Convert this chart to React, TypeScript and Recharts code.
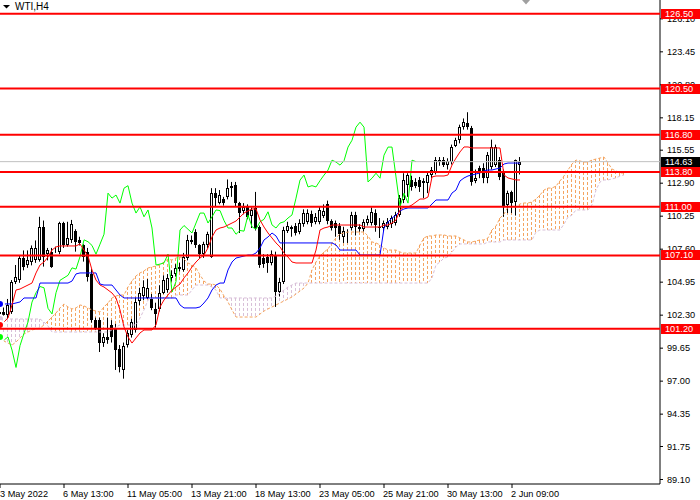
import {
  ComposedChart,
  Bar,
  Line,
  XAxis,
  YAxis,
  ReferenceLine,
} from "recharts";

// WTI H4 candles, 3 May - 2 Jun 2022
const opens = [
  102.15, 102.55, 102.3, 102.56, 104.96, 105.1, 106.9, 106.3, 106.55, 106.7,
  106.7, 109.4, 107.2, 107.4, 107.5, 107.4, 109.7, 107.95, 108.3, 109.05,
  108.3, 107.9, 107.4, 105.6, 101.9, 101.9, 100.06, 100.55, 101.5, 101.3,
  99.6, 97.9, 99.9, 100.7, 101.1, 103.45, 103.8, 103.7, 103.6, 102.8,
  102.8, 104.1, 104.3, 105.3, 105.6, 106.2, 105.9, 106.9, 108.35, 109.0,
  107.9, 107.2, 107.9, 107.0, 112.1, 111.3, 111.6, 111.8, 112.5, 112.75,
  111.3, 110.7, 111.0, 110.3, 110.9, 109.38, 106.9, 107.0, 106.5, 107.1,
  104.2, 105.0, 109.1, 109.4, 109.5, 109.0, 109.6, 109.8, 110.4, 109.8,
  109.8, 110.3, 111.2, 109.9, 109.7, 109.5, 108.6, 109.0, 109.3, 110.35,
  109.4, 109.2, 109.7, 109.7, 110.5, 109.4, 109.3, 109.4, 109.6, 109.7,
  110.35, 111.55, 112.75, 113.15, 113.0, 113.15, 112.9, 112.9, 113.55, 113.8,
  114.75, 114.75, 114.4, 114.6, 115.9, 116.35, 117.4, 117.7, 117.35, 113.1,
  114.1, 114.1, 113.3, 114.2, 114.4, 114.75, 113.8, 111.15, 112.2, 111.4,
  114.4,
];
const highs = [
  102.72, 102.95, 103.6, 105.12, 106.33, 107.13, 107.5, 107.5, 107.9, 108.3,
  110.2, 109.9, 107.7, 107.7, 107.8, 109.8, 109.8, 109.8, 109.95, 109.2,
  108.6, 108.0, 107.7, 106.0, 102.1, 102.1, 100.85, 102.1, 101.9, 101.6,
  99.9, 100.1, 101.1, 102.0, 103.7, 104.5, 105.1, 105.2, 104.0, 103.3,
  104.7, 105.5, 105.6, 105.9, 106.4, 106.5, 107.3, 108.75, 108.7, 109.2,
  108.0, 108.2, 109.0, 112.5, 112.5, 112.35, 111.8, 113.2, 113.0, 113.0,
  111.4, 111.3, 111.2, 110.95, 112.2, 109.5, 107.2, 107.2, 107.5, 107.4,
  105.3, 109.4, 109.8, 109.5, 109.7, 110.0, 110.8, 110.8, 110.7, 110.5,
  111.0, 111.2, 111.5, 110.0, 109.9, 109.7, 109.4, 109.2, 110.6, 110.6,
  109.6, 110.0, 110.3, 110.95, 110.8, 110.1, 109.9, 110.1, 110.3, 110.6,
  111.95, 113.7, 113.7, 113.5, 113.3, 113.4, 113.3, 113.8, 114.2, 115.0,
  115.0, 115.0, 114.9, 116.0, 116.55, 117.6, 118.1, 118.6, 117.5, 114.0,
  114.3, 114.5, 115.4, 116.4, 116.0, 115.0, 114.0, 112.3, 112.3, 114.8,
  115.0,
];
const lows = [
  101.91, 101.95, 102.05, 102.4, 104.8, 104.9, 105.9, 106.1, 106.3, 106.5,
  106.6, 106.2, 106.7, 106.1, 107.3, 107.2, 107.7, 107.8, 108.1, 107.4,
  107.9, 106.6, 105.0, 101.7, 101.1, 99.34, 99.75, 100.0, 100.1, 97.9,
  97.7, 97.2, 99.7, 100.5, 100.9, 103.1, 103.5, 103.6, 102.7, 101.3,
  102.6, 104.0, 104.1, 105.0, 105.4, 105.8, 105.8, 106.7, 108.0, 107.7,
  106.9, 106.9, 107.7, 106.9, 111.0, 111.2, 111.1, 111.6, 111.8, 111.0,
  108.9, 110.4, 110.0, 109.3, 109.1, 106.1, 106.1, 105.7, 106.3, 102.96,
  103.8, 104.8, 108.9, 108.6, 108.7, 108.8, 109.4, 109.6, 109.4, 109.6,
  109.6, 110.1, 109.6, 109.1, 108.6, 108.35, 108.1, 108.1, 109.1, 108.7,
  109.0, 109.0, 109.5, 109.5, 109.0, 108.5, 109.0, 109.2, 109.3, 109.5,
  110.2, 111.3, 111.8, 112.3, 112.5, 112.2, 111.7, 112.1, 113.3, 113.6,
  114.3, 114.2, 114.0, 114.4, 115.8, 116.1, 117.2, 117.2, 112.7, 112.9,
  113.3, 112.9, 112.9, 114.0, 114.2, 113.15, 110.2, 110.5, 110.5, 110.3,
  113.6,
];
const closes = [
  102.56, 102.3, 103.1, 104.96, 105.4, 106.89, 106.2, 106.7, 107.7, 107.7,
  109.38, 106.97, 107.5, 106.2, 107.6, 109.7, 107.9, 108.5, 109.6, 108.2,
  108.1, 106.95, 105.37, 101.9, 101.3, 100.06, 100.55, 100.3, 100.55, 99.5,
  98.1, 99.85, 100.85, 101.75, 103.35, 104.1, 104.6, 104.5, 102.85, 102.4,
  104.1, 105.1, 105.3, 105.5, 106.1, 106.0, 107.0, 108.35, 108.2, 107.9,
  107.2, 108.0, 108.8, 112.1, 111.7, 111.95, 111.3, 112.5, 112.7, 111.3,
  110.5, 111.0, 110.2, 110.75, 109.3, 106.33, 106.4, 106.5, 107.2, 104.16,
  105.0, 109.14, 109.5, 109.2, 108.9, 109.7, 110.5, 110.5, 109.7, 110.2,
  110.75, 110.7, 109.9, 109.3, 109.3, 108.8, 109.1, 109.05, 110.35, 109.4,
  109.2, 109.8, 110.0, 110.6, 109.55, 109.3, 109.7, 109.8, 110.1, 110.35,
  111.7, 113.15, 113.55, 112.6, 112.7, 112.6, 113.1, 113.55, 113.95, 114.75,
  114.6, 114.35, 114.7, 115.8, 116.35, 117.4, 117.8, 117.4, 113.0, 113.3,
  113.7, 113.3, 115.15, 115.8, 115.8, 113.4, 111.0, 112.1, 111.3, 114.75,
  114.63,
];

// Ichimoku lines
const tenkan = [
  101.51, 101.75, 102.07, 103.12, 104.32, 104.4, 104.56, 104.72, 104.88, 105.69,
  106.33, 106.57, 106.97, 107.53, 107.78, 107.86, 107.86, 107.86, 107.86, 107.86,
  108.02, 107.53, 107.05, 105.93, 105.12, 104.72, 104.56, 104.32, 104.08, 103.68,
  102.72, 101.35, 100.55, 100.06, 100.47, 100.87, 101.11, 101.11, 101.11, 101.51,
  102.96, 103.52, 103.92, 104.32, 104.56, 104.8, 105.29, 105.69, 106.17, 106.57,
  106.89, 107.13, 107.7, 108.58, 109.14, 109.3, 109.38, 109.54, 109.7, 109.86,
  110.18, 110.5, 110.67, 110.83, 110.83, 109.94, 109.38, 108.9, 108.5, 108.1,
  107.78, 107.29, 106.97, 106.57, 106.49, 106.49, 106.49, 106.49, 106.49, 107.53,
  109.14, 109.3, 109.38, 109.54, 109.54, 109.54, 109.54, 109.54, 109.54, 109.54,
  109.54, 109.38, 109.38, 109.38, 109.38, 109.38, 109.54, 109.54, 109.7, 109.94,
  110.75, 110.99, 110.99, 111.15, 111.39, 111.63, 111.63, 111.79, 113.4, 113.48,
  113.48, 113.48, 113.56, 114.36, 114.92, 115.41, 115.81, 115.81, 115.73, 115.73,
  115.73, 115.73, 115.73, 115.73, 115.73, 115.73, 113.56, 113.32, 113.24, 113.16,
  113.16,
];
const kijun = [
  103.2, 103.2, 103.2, 103.2, 103.28, 103.36, 103.68, 103.68, 103.68, 103.68,
  104.88, 104.88, 104.88, 104.88, 104.88, 104.88, 104.88, 104.88, 105.04, 105.61,
  105.69, 105.69, 105.69, 105.69, 105.69, 104.8, 104.72, 104.72, 104.72, 104.32,
  103.92, 103.68, 103.68, 103.68, 103.68, 103.68, 103.68, 103.68, 103.68, 103.68,
  103.68, 103.68, 103.68, 103.68, 103.68, 103.12, 102.88, 102.88, 102.88, 102.88,
  102.96, 103.28, 103.68, 104.32, 104.72, 104.88, 104.88, 105.93, 106.57, 106.89,
  106.97, 107.05, 107.13, 107.13, 107.29, 107.7, 108.34, 108.58, 108.9, 108.66,
  108.1, 108.1, 108.1, 108.1, 108.1, 108.1, 108.1, 108.1, 108.1, 108.1,
  108.1, 108.1, 108.1, 108.1, 107.94, 107.53, 107.53, 107.53, 107.53, 107.53,
  107.13, 107.13, 107.13, 107.13, 107.13, 107.13, 109.3, 109.78, 110.1, 110.34,
  110.67, 110.83, 110.91, 110.91, 110.91, 110.91, 110.91, 110.91, 111.23, 111.55,
  111.55, 111.55, 111.55, 112.11, 112.35, 113.08, 113.32, 113.48, 113.56, 113.64,
  113.72, 113.88, 113.96, 113.96, 114.04, 114.12, 114.44, 114.52, 114.52, 114.52,
  114.52,
];
const spanA = [
  100.55, 100.22, 100.06, 99.9, 100.14, 100.47, 100.79, 100.95, 101.11, 101.19,
  101.27, 101.51, 101.83, 102.15, 102.47, 102.88, 103.2, 102.96, 102.8, 102.88,
  103.12, 103.04, 102.88, 102.72, 102.63, 102.55, 102.96, 103.28, 103.68, 103.84,
  103.92, 103.92, 104.56, 105.04, 105.45, 105.69, 105.85, 106.09, 106.17, 106.25,
  106.33, 106.57, 106.81, 106.73, 106.89, 106.97, 106.81, 106.49, 106.33, 106.09,
  105.53, 105.04, 104.8, 104.8, 104.72, 104.4, 103.84, 103.36, 102.72, 102.15,
  102.15, 102.15, 102.15, 102.15, 102.15, 102.39, 102.63, 102.8, 102.96, 103.12,
  103.28, 103.44, 103.6, 103.76, 104.0, 104.24, 104.48, 104.88, 105.93, 106.57,
  107.05, 107.37, 107.61, 108.1, 108.5, 108.82, 108.9, 108.98, 108.98, 108.98,
  108.98, 108.98, 108.66, 108.18, 108.1, 107.94, 107.7, 107.53, 107.53, 107.53,
  107.37, 107.29, 107.29, 107.29, 107.29, 107.94, 108.5, 108.66, 108.66, 108.74,
  108.74, 108.74, 108.66, 108.66, 108.66, 108.5, 108.34, 108.18, 108.18, 108.26,
  108.34, 108.34, 108.5, 109.14, 109.46, 110.1, 110.42, 110.99, 110.99, 110.99,
  111.23, 111.31, 111.31, 111.39, 111.63, 111.95, 112.35, 112.51, 112.51, 112.67,
  113.08, 113.48, 113.96, 114.44, 114.76, 114.68, 114.6, 114.6, 114.76, 114.84,
  114.92, 115.0, 114.52, 114.04, 113.88, 113.72, 113.72,
];
const spanB = [
  101.99, 101.99, 101.99, 101.99, 101.99, 101.99, 101.99, 101.99, 101.99, 101.99,
  101.99, 101.75, 101.43, 100.95, 100.95, 100.95, 100.95, 100.95, 100.95, 100.95,
  100.95, 100.95, 100.95, 100.95, 100.95, 100.95, 100.95, 100.95, 101.11, 101.35,
  101.51, 101.51, 101.51, 101.51, 101.51, 102.07, 102.72, 103.52, 103.68, 103.68,
  103.68, 103.68, 103.68, 103.68, 103.92, 103.92, 103.92, 103.92, 104.32, 104.72,
  104.72, 104.72, 104.72, 104.56, 104.32, 103.68, 103.68, 103.68, 103.68, 103.68,
  103.68, 103.68, 103.68, 103.68, 103.68, 103.68, 103.68, 103.68, 103.68, 103.84,
  104.08, 104.32, 104.56, 104.72, 104.88, 104.88, 104.88, 104.88, 104.88, 104.88,
  104.88, 104.88, 104.88, 104.88, 104.88, 104.88, 104.88, 104.88, 104.88, 104.88,
  104.88, 104.88, 104.88, 104.88, 104.88, 104.88, 104.88, 104.88, 104.88, 104.88,
  104.88, 104.88, 104.88, 104.88, 104.88, 104.88, 104.88, 104.88, 105.29, 106.33,
  106.57, 106.89, 106.97, 107.37, 107.78, 108.02, 108.02, 108.02, 108.02, 108.02,
  108.02, 108.02, 108.18, 108.18, 108.18, 108.18, 108.34, 108.34, 108.34, 108.34,
  108.34, 108.34, 108.34, 108.34, 108.98, 109.14, 109.14, 109.14, 109.14, 109.14,
  109.14, 109.62, 110.18, 110.34, 110.75, 110.75, 110.75, 110.75, 111.15, 112.35,
  113.0, 113.16, 113.16, 113.24, 113.32, 113.48, 113.56,
];

const levels = [126.5, 120.5, 116.8, 113.8, 111.0, 107.1, 101.2];
const lastPrice = 114.63;
const priceTicks = [
  89.1, 91.75, 94.35, 97.0, 99.65, 102.3, 104.95, 107.6, 110.25, 112.9, 115.55,
  118.15, 120.8, 123.45, 126.1,
];
const timeTicks = [0, 16, 32, 48, 64, 80, 96, 112, 128];
const timeLabels = [
  "3 May 2022",
  "6 May 13:00",
  "11 May 05:00",
  "13 May 21:00",
  "18 May 13:00",
  "23 May 05:00",
  "25 May 21:00",
  "30 May 13:00",
  "2 Jun 09:00",
];

const FONT = "'Liberation Sans', Arial, sans-serif";
const SHIFT = 26;
const DOMAIN: [number, number] = [88.739, 127.614];
const XDOMAIN: [number, number] = [0, 165];

// одна строка на бар, облако уходит на 26 баров вперёд
const data = spanA.map((a, i) => {
  const b = spanB[i];
  const hasBar = i < closes.length;
  return {
    i,
    o: hasBar ? opens[i] : undefined,
    h: hasBar ? highs[i] : undefined,
    l: hasBar ? lows[i] : undefined,
    c: hasBar ? closes[i] : undefined,
    hl: hasBar ? [lows[i], highs[i]] : undefined,
    tenkan: hasBar ? tenkan[i] : undefined,
    kijun: hasBar ? kijun[i] : undefined,
    chikou: i + SHIFT < closes.length ? closes[i + SHIFT] : undefined,
    a,
    b,
    kumo: [Math.min(a, b), Math.max(a, b)],
  };
});

const Candle = (props: any) => {
  const { x, y, width, height, payload } = props;
  if (payload == null || payload.o == null) return null;
  const top = Math.min(y, y + height);
  const hh = Math.abs(height);
  const k = hh / (payload.h - payload.l || 1);
  const py = (p: number) => top + (payload.h - p) * k;
  const cx = Math.floor(x + width / 2);
  const bTop = Math.round(py(Math.max(payload.o, payload.c)));
  const bBot = Math.round(py(Math.min(payload.o, payload.c)));
  const up = payload.c >= payload.o;
  return (
    <g>
      <line x1={cx + 0.5} x2={cx + 0.5} y1={top} y2={top + hh} stroke="#000" />
      {up ? (
        <rect
          x={cx - 0.5}
          y={bTop + 0.5}
          width={2}
          height={Math.max(bBot - bTop - 1, 0)}
          fill="#fff"
          stroke="#000"
        />
      ) : (
        <rect x={cx - 1} y={bTop} width={3} height={Math.max(bBot - bTop, 1)} fill="#000" />
      )}
    </g>
  );
};

const Kumo = (props: any) => {
  const { x, y, width, height, payload } = props;
  if (payload == null) return null;
  const top = Math.min(y, y + height);
  const cx = Math.floor(x + width / 2) + 0.5;
  const color = payload.a >= payload.b ? "#F4A460" : "#D8BFD8";
  return (
    <line
      x1={cx}
      x2={cx}
      y1={top}
      y2={top + Math.abs(height)}
      stroke={color}
      strokeDasharray="3 2"
    />
  );
};

const tag = (text: string, bg: string) => (props: any) => {
  const vb = props.viewBox || {};
  const yy = Math.round(vb.y);
  return (
    <g>
      <rect x={661} y={yy - 5} width={39} height={10} fill={bg} />
      <text x={665} y={yy} dy="0.35em" fill="#fff" fontSize={9.2} fontFamily={FONT}>
        {text}
      </text>
    </g>
  );
};

const TimeTick = (props: any) => {
  const { x, y, payload } = props;
  const idx = timeTicks.indexOf(payload.value);
  return (
    <text
      x={Math.max(x - 1, 0)}
      y={y}
      dy="0.71em"
      textAnchor="start"
      fontSize={9.2}
      fontFamily={FONT}
      fill="#000"
    >
      {timeLabels[idx]}
    </text>
  );
};

export default function App() {
  return (
    <div style={{ position: "relative", width: 700, height: 500, background: "#fff" }}>
      <style>{"body{margin:0}"}</style>
      <ComposedChart
        width={700}
        height={500}
        data={data}
        margin={{ top: 0, right: 0, bottom: 0, left: 0 }}
      >
        <XAxis
          dataKey="i"
          type="number"
          domain={XDOMAIN}
          allowDataOverflow
          ticks={timeTicks}
          interval={0}
          height={16}
          tickSize={4}
          tickMargin={2}
          axisLine={{ stroke: "#000" }}
          tickLine={{ stroke: "#000" }}
          tick={<TimeTick />}
        />
        <XAxis xAxisId="kumo" dataKey="i" type="number" domain={XDOMAIN} allowDataOverflow hide />
        <YAxis
          orientation="right"
          width={40}
          domain={DOMAIN}
          allowDataOverflow
          ticks={priceTicks}
          interval={0}
          tickSize={3}
          tickMargin={4}
          axisLine={{ stroke: "#000" }}
          tickLine={{ stroke: "#000" }}
          tickFormatter={(v: number) => v.toFixed(2)}
          tick={{ fontSize: 9.2, fill: "#000", fontFamily: FONT }}
        />
        <Bar
          xAxisId="kumo"
          dataKey="kumo"
          barSize={1}
          shape={<Kumo />}
          isAnimationActive={false}
        />
        <Line dataKey="a" stroke="#F4A460" strokeDasharray="3 2" dot={false} isAnimationActive={false} />
        <Line dataKey="b" stroke="#D8BFD8" strokeDasharray="3 2" dot={false} isAnimationActive={false} />
        <Bar dataKey="hl" barSize={3} shape={<Candle />} isAnimationActive={false} />
        <Line dataKey="chikou" stroke="#00FF00" dot={false} isAnimationActive={false} />
        <Line dataKey="kijun" stroke="#0000FF" dot={false} isAnimationActive={false} />
        <Line dataKey="tenkan" stroke="#FF0000" dot={false} isAnimationActive={false} />
      </ComposedChart>
      {/* уровни и ценовые метки отдельным слоем поверх шкалы */}
      <div style={{ position: "absolute", left: 0, top: 0, pointerEvents: "none" }}>
        <ComposedChart
          width={700}
          height={500}
          data={data}
          margin={{ top: 0, right: 40, bottom: 16, left: 0 }}
        >
          <XAxis dataKey="i" type="number" domain={XDOMAIN} allowDataOverflow hide />
          <YAxis domain={DOMAIN} allowDataOverflow hide />
          <ReferenceLine
            y={lastPrice}
            stroke="#C0C0C0"
            strokeWidth={1}
            label={tag(lastPrice.toFixed(2), "#000")}
          />
          {levels.map((lv) => (
            <ReferenceLine
              key={lv}
              y={lv}
              stroke="#FF0000"
              strokeWidth={2}
              label={tag(lv.toFixed(2), "#FF0000")}
            />
          ))}
        </ComposedChart>
      </div>
      <div
        style={{
          position: "absolute",
          left: 0,
          top: 0,
          width: 60,
          height: 14,
          pointerEvents: "none",
        }}
      >
        <svg width={12} height={12} style={{ position: "absolute", left: 0, top: 0 }}>
          <polygon points="3,5 10,5 6.5,8.5" fill="#000" />
        </svg>
        <span
          style={{
            position: "absolute",
            left: 15,
            top: 1,
            fontSize: 10,
            lineHeight: "12px",
            fontFamily: FONT,
            color: "#000",
            whiteSpace: "nowrap",
          }}
        >
          WTI,H4
        </span>
      </div>
      <svg
        width={12}
        height={6}
        style={{ position: "absolute", left: 521, top: 0, pointerEvents: "none" }}
      >
        <polygon points="1,0 9,0 5,4.5" fill="#A0A0A0" />
      </svg>
    </div>
  );
}
